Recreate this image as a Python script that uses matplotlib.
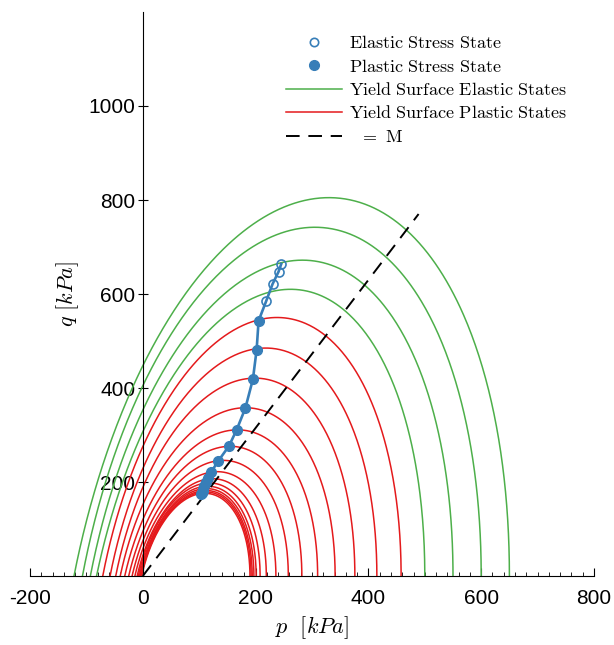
import numpy as np
import matplotlib
matplotlib.use("Agg")
import matplotlib.pyplot as plt
from matplotlib.lines import Line2D

plt.rcParams['font.family'] = ['Liberation Sans', 'DejaVu Sans']
plt.rcParams['mathtext.fontset'] = 'cm'
plt.rcParams['axes.unicode_minus'] = False

# yield surfaces: left/right intercepts on q=0 and apex (p, q), kPa
elastic_pl = [-122, -107, -93, -82]
elastic_pr = [650, 600, 550, 500]
elastic_pt = [330, 305, 283, 262]
elastic_qt = [805, 742, 672, 610]

plastic_pl = [-71, -58, -48, -40, -32, -25, -19, -14, -10, -8, -6, -5, -4, -3, -2]
plastic_pr = [458, 415, 376, 341, 310, 282, 258, 236, 219, 208, 201, 197, 194, 192, 190]
plastic_pt = [238, 218, 199, 182, 168, 155, 143, 132, 124, 118, 115, 113, 112, 111, 110]
plastic_qt = [550, 485, 421, 358, 311, 276, 246, 222, 207, 198, 191, 186, 182, 179, 176]

# stress path
elastic_p = [245.5, 240.7, 230, 219]
elastic_q = [664, 647.5, 621, 585.7]
plastic_p = [205.3, 201.8, 195.2, 181.8, 166.4, 153, 134, 121.6, 115, 111.5, 109, 107, 106, 105, 104]
plastic_q = [543, 481, 418.5, 357, 311, 277, 245, 222, 208, 199, 192, 186, 181, 177, 174]

M = 1.575
p_cs = [0, 489]

green = '#4daf4a'
red = '#e41a1c'
blue = '#377eb8'
dash = (0, (7, 4.5))


def yield_curve(pl, pr, pt, qt, n=400):
    # conic through (pl,0) and (pr,0), vertical at pr, apex at (pt,qt)
    b = -(2 * pt - pl - pr) / qt
    c = -((pt - pl) * (pt - pr) + b * qt * (pt - pr)) / qt ** 2
    t = np.linspace(0, np.pi, n)
    p = pl + (pr - pl) * (1 - np.cos(t)) / 2
    lin = b * (p - pr)
    disc = np.clip(lin ** 2 - 4 * c * (p - pl) * (p - pr), 0, None)
    q = (-lin + np.sqrt(disc)) / (2 * c)
    return p, q


fig = plt.figure(figsize=(6.14, 6.45), dpi=100)
ax = fig.add_axes([30 / 614, 1 - 576 / 645, 564 / 614, 564 / 645])

for pl, pr, pt, qt in zip(elastic_pl, elastic_pr, elastic_pt, elastic_qt):
    p, q = yield_curve(pl, pr, pt, qt)
    ax.plot(p, q, color=green, lw=1.1)
for pl, pr, pt, qt in zip(plastic_pl, plastic_pr, plastic_pt, plastic_qt):
    p, q = yield_curve(pl, pr, pt, qt)
    ax.plot(p, q, color=red, lw=1.1)

ax.plot(p_cs, [M * v for v in p_cs], color='k', lw=1.4, linestyle=dash)

ax.plot(elastic_p + plastic_p, elastic_q + plastic_q, color=blue, lw=1.9)
ax.plot(elastic_p, elastic_q, 'o', color=blue, mfc='none', ms=6.5, mew=1.2)
ax.plot(plastic_p, plastic_q, 'o', color=blue, ms=7)

ax.set_xlim(-200, 800)
ax.set_ylim(0, 1200)
ax.spines['left'].set_position(('data', 0))
ax.spines['top'].set_visible(False)
ax.spines['right'].set_visible(False)
ax.set_xticks(np.arange(-200, 801, 200))
ax.set_xticks(np.arange(-200, 801, 20), minor=True)
ax.set_yticks(np.arange(200, 1001, 200))
ax.tick_params(axis='x', which='major', direction='in', length=6, labelsize=15, pad=9)
ax.tick_params(axis='x', which='minor', direction='in', length=3)
ax.tick_params(axis='y', which='major', direction='inout', length=7, labelsize=15, pad=2)
ax.patch.set_visible(False)

ax.set_xlabel(r'$p\ \ [kPa]$', fontsize=16, labelpad=5)
ax.set_ylabel(r'$q\ [kPa]$', fontsize=16, labelpad=5)

handles = [
    Line2D([], [], ls='none', marker='o', color=blue, mfc='none', ms=6, mew=1.2),
    Line2D([], [], ls='none', marker='o', color=blue, ms=7),
    Line2D([], [], color=green, lw=1.1),
    Line2D([], [], color=red, lw=1.1),
    Line2D([], [], color='k', lw=1.4, linestyle=dash),
]
labels = [r'$\mathrm{Elastic\ Stress\ State}$',
          r'$\mathrm{Plastic\ Stress\ State}$',
          r'$\mathrm{Yield\ Surface\ Elastic\ States}$',
          r'$\mathrm{Yield\ Surface\ Plastic\ States}$',
          r'$\ \ =\ \mathrm{M}$']
fig.legend(handles, labels, loc='upper left', bbox_to_anchor=(286 / 614, 1 - 35 / 645),
           frameon=False, fontsize=13, handlelength=3.1, handletextpad=0.4,
           labelspacing=0.36, borderpad=0, borderaxespad=0)

fig.savefig('out.png', dpi=100)
